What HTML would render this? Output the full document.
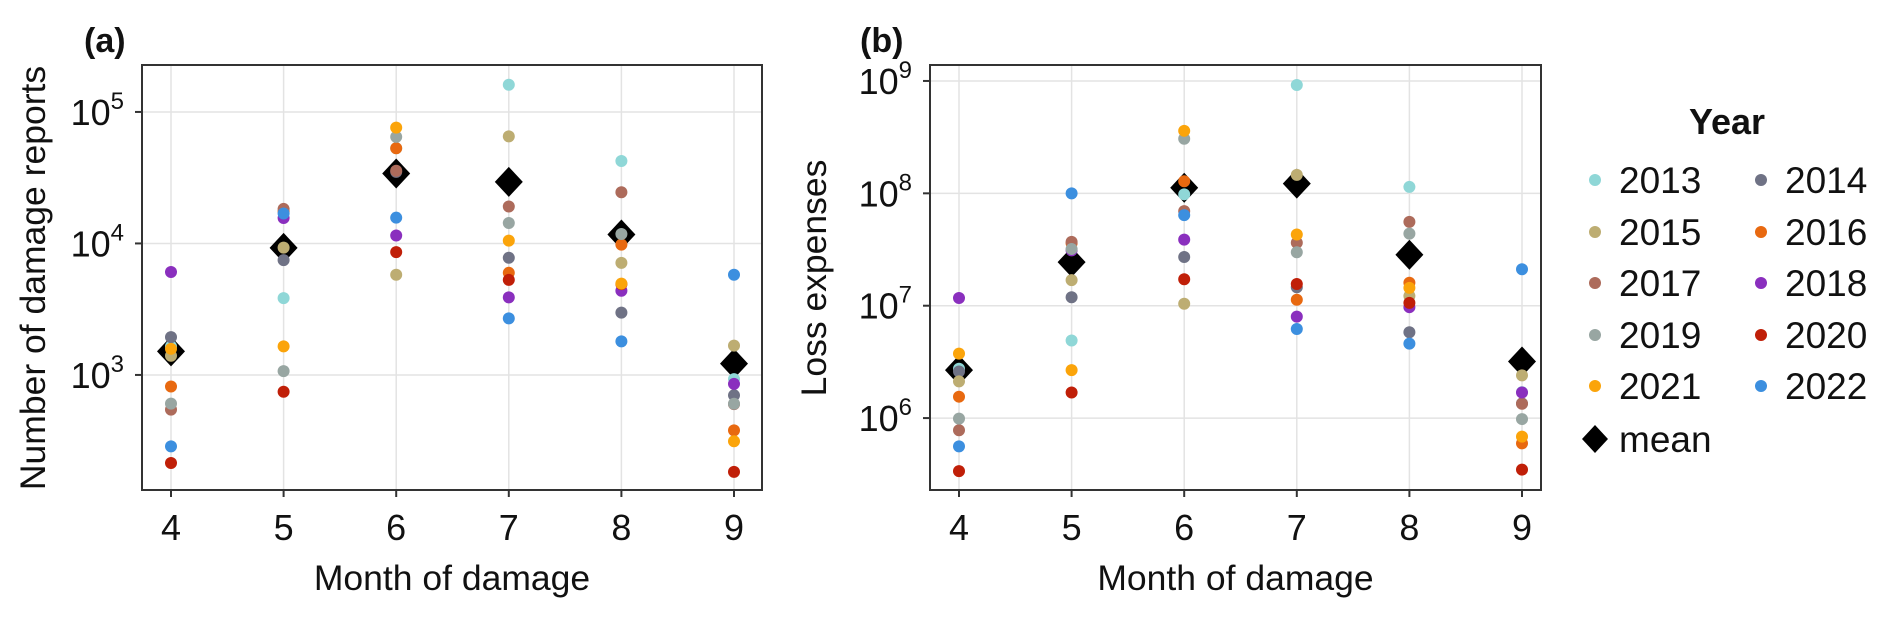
<!DOCTYPE html>
<html><head><meta charset="utf-8"><style>
html,body{margin:0;padding:0;background:#fff;}
svg{display:block;font-family:"Liberation Sans",Arial,sans-serif;}
</style></head><body>
<svg id="chart" width="1892" height="621" viewBox="0 0 1892 621" xmlns="http://www.w3.org/2000/svg"></svg>
<script>
const months = [4,5,6,7,8,9];
const years = ['2013','2014','2015','2016','2017','2018','2019','2020','2021','2022'];
const colors = ['#8fd7d7','#6f7285','#bdad72','#e86910','#ad6b5b','#8a2fbe','#98a6a2','#c01f08','#fba40a','#3c8fdf'];
const reportsA = [
 [1650,3840,53000,161000,42400,930],
 [1940,7460,35000,7780,2980,700],
 [1400,9300,5780,65200,7110,1670],
 [817,17500,53000,5980,9800,379],
 [545,18300,35700,19100,24500,600],
 [6070,15600,11500,3890,4370,855],
 [605,1070,64600,14300,11800,604],
 [214,745,8590,5280,4900,183],
 [1580,1650,76000,10500,4950,313],
 [286,16900,15700,2690,1800,5780]
];
const meanA = [1510,9260,34000,29400,11700,1220];
const lossB = [
 [2.75e6,4.9e6,9.8e7,9.2e8,1.14e8,1.7e6],
 [2.6e6,1.19e7,2.71e7,1.46e7,5.8e6,1.35e6],
 [2.12e6,1.69e7,1.04e7,1.46e8,1.22e7,2.4e6],
 [1.55e6,3.6e7,1.28e8,1.13e7,1.6e7,5.96e5],
 [7.8e5,3.7e7,6.95e7,3.63e7,5.57e7,1.34e6],
 [1.17e7,3.11e7,3.87e7,8.0e6,9.7e6,1.69e6],
 [9.9e5,3.2e7,3.06e8,2.99e7,4.38e7,9.8e5],
 [3.37e5,1.69e6,1.72e7,1.56e7,1.06e7,3.48e5],
 [3.75e6,2.67e6,3.6e8,4.3e7,1.44e7,6.84e5],
 [5.6e5,1.0e8,6.4e7,6.2e6,4.6e6,2.11e7]
];
const meanB = [2.67e6,2.44e7,1.12e8,1.22e8,2.84e7,3.19e6];
const ticksA = [3,4,5];
const ticksB = [6,7,8,9];

const NS='http://www.w3.org/2000/svg';
const svg=document.getElementById('chart');
function mk(tag,attrs,parent){const e=document.createElementNS(NS,tag);for(const k in attrs)e.setAttribute(k,attrs[k]);(parent||svg).appendChild(e);return e;}

function panel(cfg){
  const g=mk('g',{});
  
  
  const {L,R,T,B,lmin,lmax}=cfg;
  const x0=L+29, step=112.6;
  const X=m=>x0+(m-4)*step;
  const Y=v=>B-(Math.log10(v)-lmin)/(lmax-lmin)*(B-T);
  const YL=l=>B-(l-lmin)/(lmax-lmin)*(B-T);
  months.forEach(m=>{const l=mk('line',{x1:X(m),x2:X(m),y1:T,y2:B,stroke:'#e3e3e3','stroke-width':1.5},g);
    });
  cfg.ticks.forEach(t=>{const l=mk('line',{x1:L,x2:R,y1:YL(t),y2:YL(t),stroke:'#e3e3e3','stroke-width':1.5},g);
    });
  const fr=mk('rect',{x:L,y:T,width:R-L,height:B-T,fill:'none',stroke:'#333','stroke-width':2},g);
  
  months.forEach(m=>{
    mk('line',{x1:X(m),x2:X(m),y1:B,y2:B+7,stroke:'#333','stroke-width':2},g);
    const t=mk('text',{x:X(m),y:540,'font-size':36,'text-anchor':'middle',fill:'#111'},g);
    t.textContent=m;
    
  });
  cfg.ticks.forEach(tv=>{
    mk('line',{x1:L-7,x2:L,y1:YL(tv),y2:YL(tv),stroke:'#333','stroke-width':2},g);
    const t=mk('text',{x:L-18,y:YL(tv)+13,'font-size':36,'text-anchor':'end',fill:'#111'},g);
    
    const a=mk('tspan',{},t);a.textContent='10';
    const b=mk('tspan',{'font-size':24,dy:-16},t);b.textContent=tv;
  });
  cfg.mean.forEach((v,i)=>{
    const cx=X(months[i]),cy=Y(v);
    const p=mk('path',{d:`M${cx} ${cy-15}L${cx+14} ${cy}L${cx} ${cy+15}L${cx-14} ${cy}Z`,fill:'#000'},g);
    
  });
  cfg.data.forEach((row,yi)=>{
    row.forEach((v,i)=>{
      const c=mk('circle',{cx:X(months[i]),cy:Y(v),r:6,fill:colors[yi]},g);
      
      
    });
  });
  const xt=mk('text',{x:(L+R)/2,y:590,'font-size':35.5,'text-anchor':'middle',fill:'#111'},g);
  xt.textContent='Month of damage';
  
  const yt=mk('text',{x:0,y:0,'font-size':35.5,'text-anchor':'middle',fill:'#111',transform:`translate(${cfg.ytx},278) rotate(-90)`},g);
  yt.textContent=cfg.ytitle;
  
  const lb=mk('text',{x:cfg.labx,y:52,'font-size':34,'font-weight':'bold',fill:'#111'},g);
  lb.textContent=cfg.label;
  
}
panel({name:'panel-a',L:142,R:762,T:65,B:490,lmin:2.125,lmax:5.357,ticks:ticksA,data:reportsA,mean:meanA,ytitle:'Number of damage reports',ytx:45,label:'(a)',labx:84});
panel({name:'panel-b',L:930,R:1541,T:65,B:490,lmin:5.36,lmax:9.142,ticks:ticksB,data:lossB,mean:meanB,ytitle:'Loss expenses',ytx:826,label:'(b)',labx:860});

const lg=mk('g',{});


const lt=mk('text',{x:1727,y:134,'font-size':36,'font-weight':'bold','text-anchor':'middle',fill:'#111'},lg);
lt.textContent='Year';

const rowY=[180,232,283,335,386];
years.forEach((yr,i)=>{
  const col=i%2,row=Math.floor(i/2);
  const mx=col?1761:1595,ty=rowY[row];
  const e=mk('g',{},lg);
  
  mk('circle',{cx:mx,cy:ty,r:6,fill:colors[i]},e);
  const t=mk('text',{x:mx+24,y:ty+13,'font-size':37,fill:'#111'},e);t.textContent=yr;
});
const me=mk('g',{},lg);

mk('path',{d:'M1595 425L1608 439L1595 453L1582 439Z',fill:'#000'},me);
const mt=mk('text',{x:1619,y:452,'font-size':37,fill:'#111'},me);mt.textContent='mean';
</script>
</body></html>
